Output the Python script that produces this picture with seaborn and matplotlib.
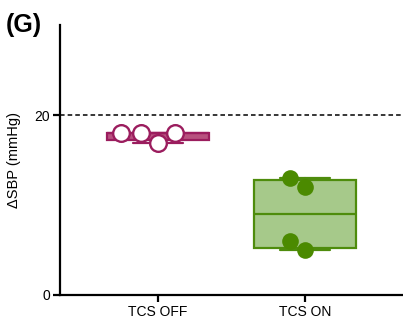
import numpy as np
import pandas as pd
import matplotlib
matplotlib.use("Agg")
import matplotlib.pyplot as plt
import seaborn as sns

# Change in systolic blood pressure per condition
conditions = ["TCS OFF", "TCS ON"]
tcs_off = [18.0, 16.9, 18.0, 18.0]
tcs_on = [13.0, 12.0, 6.0, 5.0]
threshold = 20
y_ticks = [0, 20]

purple = "#9b1d5e"
purple_fill = "#b8517f"
green = "#4e8c0c"
green_fill = "#a6c98a"
green_dot = "#4b8a00"

sns.set_style("white")
plt.rcParams["font.family"] = ["Liberation Sans", "DejaVu Sans"]
plt.rcParams["text.color"] = "black"
plt.rcParams["axes.labelcolor"] = "black"
plt.rcParams["xtick.color"] = "black"
plt.rcParams["ytick.color"] = "black"

df = pd.DataFrame({
    "condition": [conditions[0]] * len(tcs_off) + [conditions[1]] * len(tcs_on),
    "dsbp": tcs_off + tcs_on,
})

fig = plt.figure(figsize=(4.03, 3.21), dpi=100)
ax = fig.add_axes([0.149, 0.081, 0.851, 0.841])


def box_stats(values, label):
    q1, med, q3 = np.percentile(values, [25, 50, 75], method="weibull")
    return dict(label=label, med=med, q1=q1, q3=q3,
                whislo=min(values), whishi=max(values), fliers=[])


stats = [box_stats(tcs_off, conditions[0]), box_stats(tcs_on, conditions[1])]
edge_cols = [purple, green]
fill_cols = [purple_fill, green_fill]
for i, st in enumerate(stats):
    ax.bxp([st], positions=[i], widths=0.69, capwidths=0.34, patch_artist=True,
           showfliers=False,
           boxprops=dict(facecolor=fill_cols[i], edgecolor=edge_cols[i], linewidth=1.6),
           medianprops=dict(color=edge_cols[i], linewidth=1.6),
           whiskerprops=dict(color=edge_cols[i], linewidth=1.6),
           capprops=dict(color=edge_cols[i], linewidth=1.6),
           zorder=2)

sns.swarmplot(data=df[df.condition == conditions[0]], x="condition", y="dsbp",
              order=conditions, ax=ax, size=12, color="white",
              edgecolor=purple, linewidth=1.7, zorder=3)
sns.swarmplot(data=df[df.condition == conditions[1]], x="condition", y="dsbp",
              order=conditions, ax=ax, size=12, color=green_dot,
              linewidth=0, zorder=3)

ax.axhline(threshold, color="black", linestyle=(0, (3, 2)), linewidth=1.1, zorder=1)

ax.set_xlim(-0.667, 1.667)
ax.set_ylim(0, 30)
ax.set_yticks(y_ticks)
ax.set_xticks([0, 1])
ax.set_xticklabels(conditions)
ax.set_xlabel("")
ax.set_ylabel("ΔSBP (mmHg)", fontsize=10.5)
ax.yaxis.set_label_coords(-0.115, 0.5)

for side in ["top", "right"]:
    ax.spines[side].set_visible(False)
for side in ["left", "bottom"]:
    ax.spines[side].set_linewidth(1.6)
    ax.spines[side].set_color("black")
ax.tick_params(axis="both", direction="out", length=5, width=1.6, color="black",
               labelcolor="black", labelsize=10, pad=2, left=True, bottom=True)

fig.text(0.015, 0.96, "(G)", fontsize=18, fontweight="bold", va="top", ha="left",
         color="black")

fig.savefig("out.png", dpi=100)
